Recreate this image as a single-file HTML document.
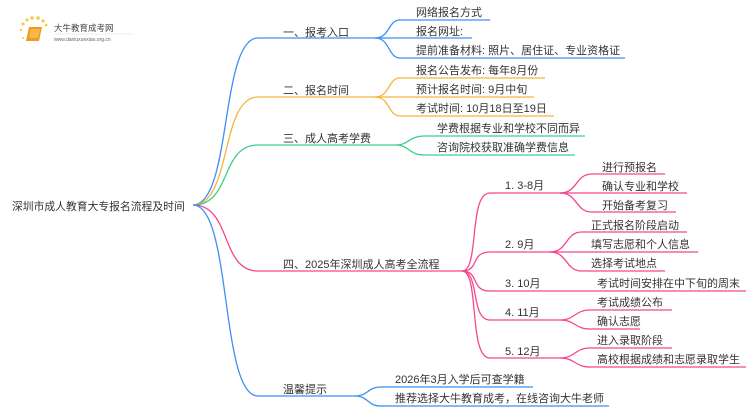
<!DOCTYPE html>
<html><head><meta charset="utf-8"><style>
html,body{margin:0;padding:0;background:#fff;width:750px;height:410px;overflow:hidden}
svg text{font-family:"Liberation Sans","Noto Sans CJK SC",sans-serif;fill:#333}
</style></head><body>
<svg width="750" height="410" viewBox="0 0 750 410" xmlns="http://www.w3.org/2000/svg">
<!-- logo -->
<g>
<circle cx="23" cy="24" r="1.6" fill="#f7c948"/><circle cx="27" cy="20" r="1.6" fill="#f7c948"/><circle cx="32" cy="18" r="1.8" fill="#f7c948"/><circle cx="38" cy="18" r="1.8" fill="#f7c948"/><circle cx="43" cy="21" r="1.6" fill="#f7c948"/><circle cx="46" cy="25" r="1.4" fill="#f7c948"/><circle cx="21" cy="30" r="1.2" fill="#f7c948"/><circle cx="23" cy="38" r="1" fill="#f7c948"/>
<path d="M29 27 L42 27 L39 41 L26 41 Z" fill="#f39a1c"/>
<path d="M31 29 L40 29 L38 38 L29 38 Z" fill="#f7b84a"/>
<text x="54" y="31" font-size="8.5" style="fill:#444">大牛教育成考网</text>
<text x="54" y="41" font-size="5" style="fill:#666">www.daniuxuexiao.org.cn</text>
<line x1="54" y1="34" x2="132" y2="34" stroke="#ddd" stroke-width="0.5"/>
</g>
<text x="12" y="210" font-size="10.8">深圳市成人教育大专报名流程及时间</text>
<g fill="none" stroke-width="1.3">
<!-- level1 -->
<path d="M193 205 C232 205 220 38 258 38 L375 38" stroke="#3d8ef8"/>
<path d="M193 205 C232 205 220 97 258 97 L375 97" stroke="#f5b53a"/>
<path d="M193 205 C232 205 220 145 258 145 L395 145" stroke="#3ccf8a"/>
<path d="M193 205 C232 205 220 271 258 271 L462 271" stroke="#f5468e"/>
<path d="M193 205 C232 205 220 396 258 396 L355 396" stroke="#3b8ff5"/>
<!-- b1 -->
<path d="M375 38 C390 38 388 20 400 20 L490 20" stroke="#3d8ef8"/>
<path d="M375 38 L472 38" stroke="#3d8ef8"/>
<path d="M375 38 C390 38 388 58 400 58 L625 58" stroke="#3d8ef8"/>
<!-- b2 -->
<path d="M375 97 C390 97 388 78 400 78 L545 78" stroke="#f5b53a"/>
<path d="M375 97 L534 97" stroke="#f5b53a"/>
<path d="M375 97 C390 97 388 116 400 116 L554 116" stroke="#f5b53a"/>
<!-- b3 -->
<path d="M395 145 C410 145 408 136 425 136 L585 136" stroke="#3ccf8a"/>
<path d="M395 145 C410 145 408 155 425 155 L575 155" stroke="#3ccf8a"/>
<!-- b4 -->
<path d="M462 271 C480 271 468 193 490 193 L560 193" stroke="#f5468e"/>
<path d="M462 271 C480 271 470 252 490 252 L550 252" stroke="#f5468e"/>
<path d="M462 271 C480 271 470 291 490 291 L746 291" stroke="#f5468e"/>
<path d="M462 271 C480 271 470 320 490 320 L560 320" stroke="#f5468e"/>
<path d="M462 271 C480 271 468 358 490 358 L560 358" stroke="#f5468e"/>
<path d="M560 193 C578 193 575 174 592 174 L665 174" stroke="#f5468e"/>
<path d="M560 193 L687 193" stroke="#f5468e"/>
<path d="M560 193 C578 193 575 212 592 212 L676 212" stroke="#f5468e"/>
<path d="M550 252 C568 252 565 232 582 232 L687 232" stroke="#f5468e"/>
<path d="M550 252 L698 252" stroke="#f5468e"/>
<path d="M550 252 C568 252 565 271 582 271 L665 271" stroke="#f5468e"/>
<path d="M560 320 C575 320 575 310 590 310 L672 310" stroke="#f5468e"/>
<path d="M560 320 C575 320 575 329 590 329 L640 329" stroke="#f5468e"/>
<path d="M560 358 C575 358 575 348 590 348 L672 348" stroke="#f5468e"/>
<path d="M560 358 C575 358 575 367 590 367 L746 367" stroke="#f5468e"/>
<!-- b5 -->
<path d="M355 396 C368 396 368 387 380 387 L533 387" stroke="#3b8ff5"/>
<path d="M355 396 C368 396 368 406 380 406 L609 406" stroke="#3b8ff5"/>
</g>
<g font-size="11">
<text x="283" y="36">一、报考入口</text>
<text x="283" y="94">二、报名时间</text>
<text x="283" y="142">三、成人高考学费</text>
<text x="283" y="268">四、2025年深圳成人高考全流程</text>
<text x="283" y="393">温馨提示</text>
<text x="416" y="16">网络报名方式</text>
<text x="416" y="35">报名网址:</text>
<text x="416" y="54">提前准备材料: 照片、居住证、专业资格证</text>
<text x="416" y="74">报名公告发布: 每年8月份</text>
<text x="416" y="93">预计报名时间: 9月中旬</text>
<text x="416" y="112">考试时间: 10月18日至19日</text>
<text x="437" y="132">学费根据专业和学校不同而异</text>
<text x="437" y="151">咨询院校获取准确学费信息</text>
<text x="505" y="189">1. 3-8月</text>
<text x="602" y="171">进行预报名</text>
<text x="602" y="190">确认专业和学校</text>
<text x="602" y="209">开始备考复习</text>
<text x="505" y="248">2. 9月</text>
<text x="591" y="229">正式报名阶段启动</text>
<text x="591" y="248">填写志愿和个人信息</text>
<text x="591" y="267">选择考试地点</text>
<text x="505" y="287">3. 10月</text>
<text x="597" y="287">考试时间安排在中下旬的周末</text>
<text x="505" y="316">4. 11月</text>
<text x="597" y="306">考试成绩公布</text>
<text x="597" y="325">确认志愿</text>
<text x="505" y="355">5. 12月</text>
<text x="597" y="344">进入录取阶段</text>
<text x="597" y="363">高校根据成绩和志愿录取学生</text>
<text x="395" y="383">2026年3月入学后可查学籍</text>
<text x="395" y="402">推荐选择大牛教育成考，在线咨询大牛老师</text>
</g>
</svg>
</body></html>
